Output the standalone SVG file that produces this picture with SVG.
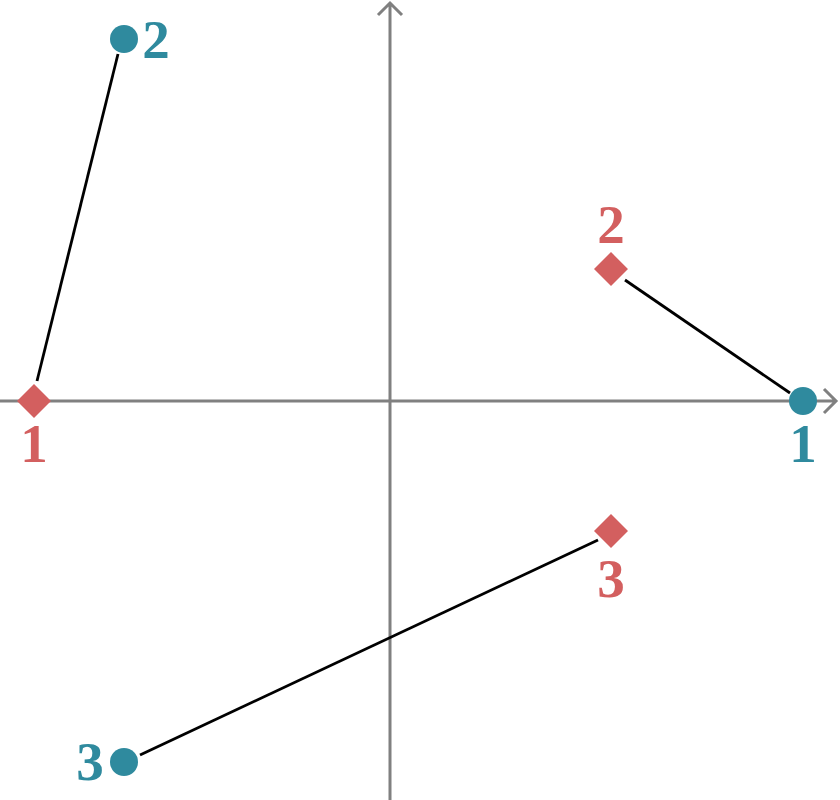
<svg xmlns="http://www.w3.org/2000/svg" width="840" height="800" viewBox="0 0 840 800">
<style>
.axis{stroke:#808080;stroke-width:3;fill:none}
.link{stroke:#000;stroke-width:2.8;fill:none}
.red{fill:#d35f5f}
.blue{fill:#2f8a9e}
.lbl{font-family:"Liberation Serif","DejaVu Serif",serif;font-weight:bold;font-size:55px}
</style>
<rect width="840" height="800" fill="#fff"/>
<g id="axes">
<path class="axis" d="M0 401H836M824 389L836 401L824 413"/>
<path class="axis" d="M390 800V3M378 15L390 3L402 15"/>
</g>
<g id="connectors">
<line class="link" x1="37" y1="381" x2="118" y2="54"/>
<line class="link" x1="625" y1="280" x2="790" y2="393"/>
<line class="link" x1="598" y1="540" x2="140" y2="755"/>
</g>
<g id="red1"><rect class="red" x="22" y="389" width="24" height="24" transform="rotate(45 34 401)"/><text class="lbl red" x="34" y="462" text-anchor="middle">1</text></g>
<g id="red2"><rect class="red" x="599" y="257" width="24" height="24" transform="rotate(45 611 269)"/><text class="lbl red" x="611" y="243" text-anchor="middle">2</text></g>
<g id="red3"><rect class="red" x="599" y="519" width="24" height="24" transform="rotate(45 611 531)"/><text class="lbl red" x="611" y="597" text-anchor="middle">3</text></g>
<g id="blue1"><circle class="blue" cx="803" cy="401" r="14"/><text class="lbl blue" x="803" y="462" text-anchor="middle">1</text></g>
<g id="blue2"><circle class="blue" cx="124" cy="39" r="14"/><text class="lbl blue" x="156" y="58" text-anchor="middle">2</text></g>
<g id="blue3"><circle class="blue" cx="124" cy="762" r="14"/><text class="lbl blue" x="90" y="780" text-anchor="middle">3</text></g>
</svg>
